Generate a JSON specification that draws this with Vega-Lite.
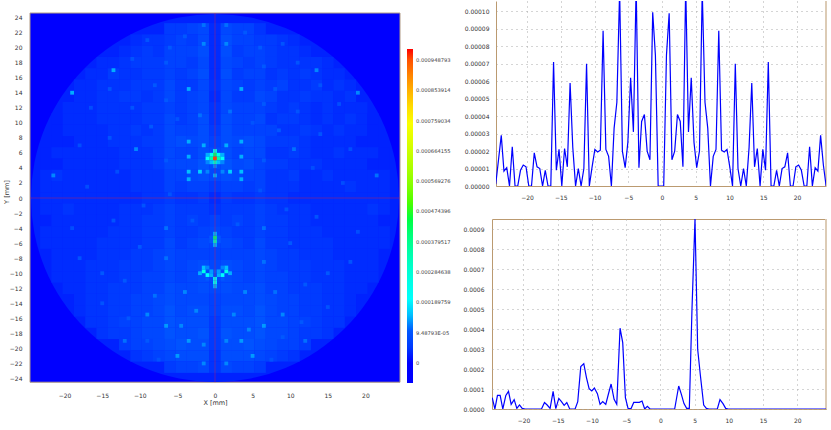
{"$schema":"https://vega.github.io/schema/vega-lite/v6.json","background":"white","padding":{"left":3,"top":0,"right":0,"bottom":0},"bounds":"flush","spacing":92,"config":{"view":{"stroke":null},"axis":{"labelFont":"DejaVu Sans","labelFontSize":6,"labelColor":"#333","titleFont":"DejaVu Sans","titleFontSize":6.5,"titleColor":"#333","titleFontWeight":"normal","ticks":false,"domain":false}},
"datasets":{"frame":[{"a":-24.6,"b":24.6,"c":-24.5,"d":24.6}],"disc":[{"x":0,"y":0,"v":2}],
"coarse":[
{"x":-6,"y":22.5,"v":5},{"x":-4.5,"y":22.5,"v":5},{"x":-3,"y":22.5,"v":6},{"x":-1.5,"y":22.5,"v":7},{"x":0,"y":22.5,"v":3},{"x":1.5,"y":22.5,"v":7},{"x":3,"y":22.5,"v":6},{"x":4.5,"y":22.5,"v":6},{"x":6,"y":22.5,"v":4},
{"x":-10.5,"y":21,"v":3},{"x":-9,"y":21,"v":4},{"x":-7.5,"y":21,"v":4},{"x":-6,"y":21,"v":5},{"x":-4.5,"y":21,"v":6},{"x":-3,"y":21,"v":5},{"x":-1.5,"y":21,"v":7},{"x":0,"y":21,"v":3},{"x":1.5,"y":21,"v":8},{"x":3,"y":21,"v":6},{"x":4.5,"y":21,"v":6},{"x":6,"y":21,"v":5},{"x":7.5,"y":21,"v":5},{"x":9,"y":21,"v":4},{"x":10.5,"y":21,"v":3},
{"x":-12,"y":19.5,"v":3},{"x":-10.5,"y":19.5,"v":4},{"x":-9,"y":19.5,"v":5},{"x":-7.5,"y":19.5,"v":4},{"x":-6,"y":19.5,"v":6},{"x":-4.5,"y":19.5,"v":6},{"x":-3,"y":19.5,"v":6},{"x":-1.5,"y":19.5,"v":8},{"x":0,"y":19.5,"v":3},{"x":1.5,"y":19.5,"v":8},{"x":3,"y":19.5,"v":5},{"x":4.5,"y":19.5,"v":6},{"x":6,"y":19.5,"v":6},{"x":7.5,"y":19.5,"v":5},{"x":9,"y":19.5,"v":4},{"x":10.5,"y":19.5,"v":4},{"x":12,"y":19.5,"v":3},
{"x":-15,"y":18,"v":3},{"x":-13.5,"y":18,"v":3},{"x":-12,"y":18,"v":4},{"x":-10.5,"y":18,"v":5},{"x":-9,"y":18,"v":5},{"x":-7.5,"y":18,"v":5},{"x":-6,"y":18,"v":6},{"x":-4.5,"y":18,"v":6},{"x":-3,"y":18,"v":5},{"x":-1.5,"y":18,"v":7},{"x":0,"y":18,"v":3},{"x":1.5,"y":18,"v":7},{"x":3,"y":18,"v":6},{"x":4.5,"y":18,"v":5},{"x":6,"y":18,"v":6},{"x":7.5,"y":18,"v":5},{"x":9,"y":18,"v":4},{"x":10.5,"y":18,"v":4},{"x":12,"y":18,"v":4},{"x":13.5,"y":18,"v":4},{"x":15,"y":18,"v":3},
{"x":-16.5,"y":16.5,"v":3},{"x":-15,"y":16.5,"v":3},{"x":-13.5,"y":16.5,"v":5},{"x":-12,"y":16.5,"v":4},{"x":-10.5,"y":16.5,"v":4},{"x":-9,"y":16.5,"v":5},{"x":-7.5,"y":16.5,"v":5},{"x":-6,"y":16.5,"v":6},{"x":-4.5,"y":16.5,"v":5},{"x":-3,"y":16.5,"v":6},{"x":-1.5,"y":16.5,"v":8},{"x":0,"y":16.5,"v":3},{"x":1.5,"y":16.5,"v":8},{"x":3,"y":16.5,"v":5},{"x":4.5,"y":16.5,"v":6},{"x":6,"y":16.5,"v":6},{"x":7.5,"y":16.5,"v":4},{"x":9,"y":16.5,"v":5},{"x":10.5,"y":16.5,"v":4},{"x":12,"y":16.5,"v":5},{"x":13.5,"y":16.5,"v":4},{"x":15,"y":16.5,"v":3},{"x":16.5,"y":16.5,"v":3},
{"x":-18,"y":15,"v":3},{"x":-16.5,"y":15,"v":3},{"x":-15,"y":15,"v":4},{"x":-13.5,"y":15,"v":4},{"x":-12,"y":15,"v":4},{"x":-10.5,"y":15,"v":5},{"x":-9,"y":15,"v":5},{"x":-7.5,"y":15,"v":5},{"x":-6,"y":15,"v":7},{"x":-4.5,"y":15,"v":5},{"x":-3,"y":15,"v":5},{"x":-1.5,"y":15,"v":7},{"x":0,"y":15,"v":4},{"x":1.5,"y":15,"v":7},{"x":3,"y":15,"v":6},{"x":4.5,"y":15,"v":5},{"x":6,"y":15,"v":6},{"x":7.5,"y":15,"v":5},{"x":9,"y":15,"v":6},{"x":10.5,"y":15,"v":4},{"x":12,"y":15,"v":4},{"x":13.5,"y":15,"v":5},{"x":15,"y":15,"v":3},{"x":16.5,"y":15,"v":4},{"x":18,"y":15,"v":3},
{"x":-18,"y":13.5,"v":3},{"x":-16.5,"y":13.5,"v":3},{"x":-15,"y":13.5,"v":4},{"x":-13.5,"y":13.5,"v":4},{"x":-12,"y":13.5,"v":5},{"x":-10.5,"y":13.5,"v":5},{"x":-9,"y":13.5,"v":4},{"x":-7.5,"y":13.5,"v":5},{"x":-6,"y":13.5,"v":7},{"x":-4.5,"y":13.5,"v":5},{"x":-3,"y":13.5,"v":6},{"x":-1.5,"y":13.5,"v":7},{"x":0,"y":13.5,"v":3},{"x":1.5,"y":13.5,"v":7},{"x":3,"y":13.5,"v":5},{"x":4.5,"y":13.5,"v":5},{"x":6,"y":13.5,"v":7},{"x":7.5,"y":13.5,"v":6},{"x":9,"y":13.5,"v":4},{"x":10.5,"y":13.5,"v":4},{"x":12,"y":13.5,"v":5},{"x":13.5,"y":13.5,"v":4},{"x":15,"y":13.5,"v":4},{"x":16.5,"y":13.5,"v":3},{"x":18,"y":13.5,"v":4},
{"x":-19.5,"y":12,"v":3},{"x":-18,"y":12,"v":3},{"x":-16.5,"y":12,"v":3},{"x":-15,"y":12,"v":4},{"x":-13.5,"y":12,"v":4},{"x":-12,"y":12,"v":4},{"x":-10.5,"y":12,"v":4},{"x":-9,"y":12,"v":5},{"x":-7.5,"y":12,"v":5},{"x":-6,"y":12,"v":6},{"x":-4.5,"y":12,"v":5},{"x":-3,"y":12,"v":6},{"x":-1.5,"y":12,"v":7},{"x":0,"y":12,"v":4},{"x":1.5,"y":12,"v":7},{"x":3,"y":12,"v":6},{"x":4.5,"y":12,"v":6},{"x":6,"y":12,"v":6},{"x":7.5,"y":12,"v":5},{"x":9,"y":12,"v":4},{"x":10.5,"y":12,"v":5},{"x":12,"y":12,"v":4},{"x":13.5,"y":12,"v":3},{"x":15,"y":12,"v":4},{"x":16.5,"y":12,"v":3},{"x":18,"y":12,"v":3},{"x":19.5,"y":12,"v":3},
{"x":-21,"y":10.5,"v":2},{"x":-19.5,"y":10.5,"v":3},{"x":-18,"y":10.5,"v":3},{"x":-16.5,"y":10.5,"v":3},{"x":-15,"y":10.5,"v":4},{"x":-13.5,"y":10.5,"v":4},{"x":-12,"y":10.5,"v":4},{"x":-10.5,"y":10.5,"v":4},{"x":-9,"y":10.5,"v":5},{"x":-7.5,"y":10.5,"v":5},{"x":-6,"y":10.5,"v":7},{"x":-4.5,"y":10.5,"v":5},{"x":-3,"y":10.5,"v":6},{"x":-1.5,"y":10.5,"v":8},{"x":0,"y":10.5,"v":4},{"x":1.5,"y":10.5,"v":8},{"x":3,"y":10.5,"v":6},{"x":4.5,"y":10.5,"v":6},{"x":6,"y":10.5,"v":7},{"x":7.5,"y":10.5,"v":4},{"x":9,"y":10.5,"v":5},{"x":10.5,"y":10.5,"v":5},{"x":12,"y":10.5,"v":4},{"x":13.5,"y":10.5,"v":3},{"x":15,"y":10.5,"v":4},{"x":16.5,"y":10.5,"v":3},{"x":18,"y":10.5,"v":4},{"x":19.5,"y":10.5,"v":3},{"x":21,"y":10.5,"v":2},
{"x":-21,"y":9,"v":2},{"x":-19.5,"y":9,"v":3},{"x":-18,"y":9,"v":3},{"x":-16.5,"y":9,"v":3},{"x":-15,"y":9,"v":3},{"x":-13.5,"y":9,"v":4},{"x":-12,"y":9,"v":4},{"x":-10.5,"y":9,"v":5},{"x":-9,"y":9,"v":4},{"x":-7.5,"y":9,"v":5},{"x":-6,"y":9,"v":7},{"x":-4.5,"y":9,"v":6},{"x":-3,"y":9,"v":6},{"x":-1.5,"y":9,"v":8},{"x":0,"y":9,"v":5},{"x":1.5,"y":9,"v":8},{"x":3,"y":9,"v":6},{"x":4.5,"y":9,"v":6},{"x":6,"y":9,"v":6},{"x":7.5,"y":9,"v":6},{"x":9,"y":9,"v":4},{"x":10.5,"y":9,"v":4},{"x":12,"y":9,"v":5},{"x":13.5,"y":9,"v":4},{"x":15,"y":9,"v":3},{"x":16.5,"y":9,"v":4},{"x":18,"y":9,"v":3},{"x":19.5,"y":9,"v":3},{"x":21,"y":9,"v":2},
{"x":-21,"y":7.5,"v":2},{"x":-19.5,"y":7.5,"v":2},{"x":-18,"y":7.5,"v":3},{"x":-16.5,"y":7.5,"v":3},{"x":-15,"y":7.5,"v":3},{"x":-13.5,"y":7.5,"v":4},{"x":-12,"y":7.5,"v":4},{"x":-10.5,"y":7.5,"v":4},{"x":-9,"y":7.5,"v":5},{"x":-7.5,"y":7.5,"v":5},{"x":-6,"y":7.5,"v":7},{"x":-4.5,"y":7.5,"v":8},{"x":-3,"y":7.5,"v":7},{"x":-1.5,"y":7.5,"v":8},{"x":0,"y":7.5,"v":6},{"x":1.5,"y":7.5,"v":8},{"x":3,"y":7.5,"v":7},{"x":4.5,"y":7.5,"v":8},{"x":6,"y":7.5,"v":7},{"x":7.5,"y":7.5,"v":5},{"x":9,"y":7.5,"v":5},{"x":10.5,"y":7.5,"v":5},{"x":12,"y":7.5,"v":4},{"x":13.5,"y":7.5,"v":3},{"x":15,"y":7.5,"v":3},{"x":16.5,"y":7.5,"v":3},{"x":18,"y":7.5,"v":3},{"x":19.5,"y":7.5,"v":2},{"x":21,"y":7.5,"v":2},
{"x":-22.5,"y":6,"v":2},{"x":-21,"y":6,"v":3},{"x":-19.5,"y":6,"v":3},{"x":-18,"y":6,"v":3},{"x":-16.5,"y":6,"v":3},{"x":-15,"y":6,"v":3},{"x":-13.5,"y":6,"v":3},{"x":-12,"y":6,"v":4},{"x":-10.5,"y":6,"v":4},{"x":-9,"y":6,"v":4},{"x":-7.5,"y":6,"v":5},{"x":-6,"y":6,"v":7},{"x":-4.5,"y":6,"v":6},{"x":-3,"y":6,"v":6},{"x":-1.5,"y":6,"v":8},{"x":0,"y":6,"v":8},{"x":1.5,"y":6,"v":8},{"x":3,"y":6,"v":6},{"x":4.5,"y":6,"v":7},{"x":6,"y":6,"v":7},{"x":7.5,"y":6,"v":4},{"x":9,"y":6,"v":4},{"x":10.5,"y":6,"v":5},{"x":12,"y":6,"v":4},{"x":13.5,"y":6,"v":3},{"x":15,"y":6,"v":3},{"x":16.5,"y":6,"v":4},{"x":18,"y":6,"v":3},{"x":19.5,"y":6,"v":3},{"x":21,"y":6,"v":3},{"x":22.5,"y":6,"v":2},
{"x":-22.5,"y":4.5,"v":2},{"x":-21,"y":4.5,"v":2},{"x":-19.5,"y":4.5,"v":3},{"x":-18,"y":4.5,"v":3},{"x":-16.5,"y":4.5,"v":3},{"x":-15,"y":4.5,"v":3},{"x":-13.5,"y":4.5,"v":3},{"x":-12,"y":4.5,"v":4},{"x":-10.5,"y":4.5,"v":4},{"x":-9,"y":4.5,"v":4},{"x":-7.5,"y":4.5,"v":5},{"x":-6,"y":4.5,"v":7},{"x":-4.5,"y":4.5,"v":7},{"x":-3,"y":4.5,"v":7},{"x":-1.5,"y":4.5,"v":9},{"x":0,"y":4.5,"v":8},{"x":1.5,"y":4.5,"v":9},{"x":3,"y":4.5,"v":7},{"x":4.5,"y":4.5,"v":8},{"x":6,"y":4.5,"v":6},{"x":7.5,"y":4.5,"v":5},{"x":9,"y":4.5,"v":5},{"x":10.5,"y":4.5,"v":4},{"x":12,"y":4.5,"v":4},{"x":13.5,"y":4.5,"v":4},{"x":15,"y":4.5,"v":3},{"x":16.5,"y":4.5,"v":3},{"x":18,"y":4.5,"v":3},{"x":19.5,"y":4.5,"v":3},{"x":21,"y":4.5,"v":2},{"x":22.5,"y":4.5,"v":2},
{"x":-22.5,"y":3,"v":3},{"x":-21,"y":3,"v":4},{"x":-19.5,"y":3,"v":3},{"x":-18,"y":3,"v":3},{"x":-16.5,"y":3,"v":3},{"x":-15,"y":3,"v":3},{"x":-13.5,"y":3,"v":3},{"x":-12,"y":3,"v":3},{"x":-10.5,"y":3,"v":4},{"x":-9,"y":3,"v":4},{"x":-7.5,"y":3,"v":4},{"x":-6,"y":3,"v":6},{"x":-4.5,"y":3,"v":6},{"x":-3,"y":3,"v":7},{"x":-1.5,"y":3,"v":8},{"x":0,"y":3,"v":7},{"x":1.5,"y":3,"v":8},{"x":3,"y":3,"v":7},{"x":4.5,"y":3,"v":6},{"x":6,"y":3,"v":6},{"x":7.5,"y":3,"v":4},{"x":9,"y":3,"v":4},{"x":10.5,"y":3,"v":5},{"x":12,"y":3,"v":3},{"x":13.5,"y":3,"v":3},{"x":15,"y":3,"v":4},{"x":16.5,"y":3,"v":3},{"x":18,"y":3,"v":3},{"x":19.5,"y":3,"v":3},{"x":21,"y":3,"v":3},{"x":22.5,"y":3,"v":3},
{"x":-22.5,"y":1.5,"v":3},{"x":-21,"y":1.5,"v":3},{"x":-19.5,"y":1.5,"v":3},{"x":-18,"y":1.5,"v":3},{"x":-16.5,"y":1.5,"v":3},{"x":-15,"y":1.5,"v":3},{"x":-13.5,"y":1.5,"v":3},{"x":-12,"y":1.5,"v":3},{"x":-10.5,"y":1.5,"v":4},{"x":-9,"y":1.5,"v":4},{"x":-7.5,"y":1.5,"v":4},{"x":-6,"y":1.5,"v":6},{"x":-4.5,"y":1.5,"v":5},{"x":-3,"y":1.5,"v":6},{"x":-1.5,"y":1.5,"v":6},{"x":0,"y":1.5,"v":5},{"x":1.5,"y":1.5,"v":6},{"x":3,"y":1.5,"v":6},{"x":4.5,"y":1.5,"v":5},{"x":6,"y":1.5,"v":6},{"x":7.5,"y":1.5,"v":4},{"x":9,"y":1.5,"v":4},{"x":10.5,"y":1.5,"v":4},{"x":12,"y":1.5,"v":3},{"x":13.5,"y":1.5,"v":3},{"x":15,"y":1.5,"v":3},{"x":16.5,"y":1.5,"v":3},{"x":18,"y":1.5,"v":4},{"x":19.5,"y":1.5,"v":3},{"x":21,"y":1.5,"v":3},{"x":22.5,"y":1.5,"v":3},
{"x":-22.5,"y":0,"v":3},{"x":-21,"y":0,"v":3},{"x":-19.5,"y":0,"v":3},{"x":-18,"y":0,"v":3},{"x":-16.5,"y":0,"v":3},{"x":-15,"y":0,"v":3},{"x":-13.5,"y":0,"v":3},{"x":-12,"y":0,"v":3},{"x":-10.5,"y":0,"v":3},{"x":-9,"y":0,"v":4},{"x":-7.5,"y":0,"v":4},{"x":-6,"y":0,"v":5},{"x":-4.5,"y":0,"v":4},{"x":-3,"y":0,"v":4},{"x":-1.5,"y":0,"v":5},{"x":0,"y":0,"v":3},{"x":1.5,"y":0,"v":5},{"x":3,"y":0,"v":4},{"x":4.5,"y":0,"v":4},{"x":6,"y":0,"v":5},{"x":7.5,"y":0,"v":4},{"x":9,"y":0,"v":4},{"x":10.5,"y":0,"v":3},{"x":12,"y":0,"v":3},{"x":13.5,"y":0,"v":3},{"x":15,"y":0,"v":3},{"x":16.5,"y":0,"v":3},{"x":18,"y":0,"v":3},{"x":19.5,"y":0,"v":3},{"x":21,"y":0,"v":3},{"x":22.5,"y":0,"v":3},
{"x":-22.5,"y":-1.5,"v":3},{"x":-21,"y":-1.5,"v":3},{"x":-19.5,"y":-1.5,"v":4},{"x":-18,"y":-1.5,"v":3},{"x":-16.5,"y":-1.5,"v":3},{"x":-15,"y":-1.5,"v":3},{"x":-13.5,"y":-1.5,"v":3},{"x":-12,"y":-1.5,"v":4},{"x":-10.5,"y":-1.5,"v":4},{"x":-9,"y":-1.5,"v":4},{"x":-7.5,"y":-1.5,"v":5},{"x":-6,"y":-1.5,"v":6},{"x":-4.5,"y":-1.5,"v":5},{"x":-3,"y":-1.5,"v":5},{"x":-1.5,"y":-1.5,"v":5},{"x":0,"y":-1.5,"v":4},{"x":1.5,"y":-1.5,"v":5},{"x":3,"y":-1.5,"v":5},{"x":4.5,"y":-1.5,"v":5},{"x":6,"y":-1.5,"v":6},{"x":7.5,"y":-1.5,"v":5},{"x":9,"y":-1.5,"v":4},{"x":10.5,"y":-1.5,"v":4},{"x":12,"y":-1.5,"v":4},{"x":13.5,"y":-1.5,"v":3},{"x":15,"y":-1.5,"v":3},{"x":16.5,"y":-1.5,"v":3},{"x":18,"y":-1.5,"v":3},{"x":19.5,"y":-1.5,"v":3},{"x":21,"y":-1.5,"v":4},{"x":22.5,"y":-1.5,"v":3},
{"x":-22.5,"y":-3,"v":2},{"x":-21,"y":-3,"v":3},{"x":-19.5,"y":-3,"v":3},{"x":-18,"y":-3,"v":3},{"x":-16.5,"y":-3,"v":3},{"x":-15,"y":-3,"v":3},{"x":-13.5,"y":-3,"v":3},{"x":-12,"y":-3,"v":4},{"x":-10.5,"y":-3,"v":4},{"x":-9,"y":-3,"v":5},{"x":-7.5,"y":-3,"v":5},{"x":-6,"y":-3,"v":6},{"x":-4.5,"y":-3,"v":5},{"x":-3,"y":-3,"v":6},{"x":-1.5,"y":-3,"v":5},{"x":0,"y":-3,"v":6},{"x":1.5,"y":-3,"v":5},{"x":3,"y":-3,"v":6},{"x":4.5,"y":-3,"v":5},{"x":6,"y":-3,"v":6},{"x":7.5,"y":-3,"v":5},{"x":9,"y":-3,"v":5},{"x":10.5,"y":-3,"v":4},{"x":12,"y":-3,"v":4},{"x":13.5,"y":-3,"v":3},{"x":15,"y":-3,"v":3},{"x":16.5,"y":-3,"v":3},{"x":18,"y":-3,"v":3},{"x":19.5,"y":-3,"v":3},{"x":21,"y":-3,"v":3},{"x":22.5,"y":-3,"v":2},
{"x":-22.5,"y":-4.5,"v":3},{"x":-21,"y":-4.5,"v":3},{"x":-19.5,"y":-4.5,"v":3},{"x":-18,"y":-4.5,"v":3},{"x":-16.5,"y":-4.5,"v":3},{"x":-15,"y":-4.5,"v":3},{"x":-13.5,"y":-4.5,"v":4},{"x":-12,"y":-4.5,"v":4},{"x":-10.5,"y":-4.5,"v":4},{"x":-9,"y":-4.5,"v":5},{"x":-7.5,"y":-4.5,"v":5},{"x":-6,"y":-4.5,"v":6},{"x":-4.5,"y":-4.5,"v":5},{"x":-3,"y":-4.5,"v":5},{"x":-1.5,"y":-4.5,"v":6},{"x":0,"y":-4.5,"v":7},{"x":1.5,"y":-4.5,"v":6},{"x":3,"y":-4.5,"v":5},{"x":4.5,"y":-4.5,"v":5},{"x":6,"y":-4.5,"v":6},{"x":7.5,"y":-4.5,"v":5},{"x":9,"y":-4.5,"v":5},{"x":10.5,"y":-4.5,"v":4},{"x":12,"y":-4.5,"v":4},{"x":13.5,"y":-4.5,"v":4},{"x":15,"y":-4.5,"v":3},{"x":16.5,"y":-4.5,"v":3},{"x":18,"y":-4.5,"v":3},{"x":19.5,"y":-4.5,"v":3},{"x":21,"y":-4.5,"v":3},{"x":22.5,"y":-4.5,"v":3},
{"x":-22.5,"y":-6,"v":3},{"x":-21,"y":-6,"v":3},{"x":-19.5,"y":-6,"v":3},{"x":-18,"y":-6,"v":3},{"x":-16.5,"y":-6,"v":3},{"x":-15,"y":-6,"v":4},{"x":-13.5,"y":-6,"v":4},{"x":-12,"y":-6,"v":4},{"x":-10.5,"y":-6,"v":4},{"x":-9,"y":-6,"v":5},{"x":-7.5,"y":-6,"v":5},{"x":-6,"y":-6,"v":7},{"x":-4.5,"y":-6,"v":5},{"x":-3,"y":-6,"v":6},{"x":-1.5,"y":-6,"v":7},{"x":0,"y":-6,"v":7},{"x":1.5,"y":-6,"v":7},{"x":3,"y":-6,"v":6},{"x":4.5,"y":-6,"v":5},{"x":6,"y":-6,"v":7},{"x":7.5,"y":-6,"v":5},{"x":9,"y":-6,"v":5},{"x":10.5,"y":-6,"v":4},{"x":12,"y":-6,"v":4},{"x":13.5,"y":-6,"v":4},{"x":15,"y":-6,"v":4},{"x":16.5,"y":-6,"v":3},{"x":18,"y":-6,"v":3},{"x":19.5,"y":-6,"v":3},{"x":21,"y":-6,"v":3},{"x":22.5,"y":-6,"v":3},
{"x":-21,"y":-7.5,"v":3},{"x":-19.5,"y":-7.5,"v":3},{"x":-18,"y":-7.5,"v":3},{"x":-16.5,"y":-7.5,"v":3},{"x":-15,"y":-7.5,"v":4},{"x":-13.5,"y":-7.5,"v":4},{"x":-12,"y":-7.5,"v":4},{"x":-10.5,"y":-7.5,"v":5},{"x":-9,"y":-7.5,"v":5},{"x":-7.5,"y":-7.5,"v":6},{"x":-6,"y":-7.5,"v":7},{"x":-4.5,"y":-7.5,"v":6},{"x":-3,"y":-7.5,"v":6},{"x":-1.5,"y":-7.5,"v":6},{"x":0,"y":-7.5,"v":6},{"x":1.5,"y":-7.5,"v":6},{"x":3,"y":-7.5,"v":6},{"x":4.5,"y":-7.5,"v":6},{"x":6,"y":-7.5,"v":7},{"x":7.5,"y":-7.5,"v":6},{"x":9,"y":-7.5,"v":5},{"x":10.5,"y":-7.5,"v":5},{"x":12,"y":-7.5,"v":4},{"x":13.5,"y":-7.5,"v":4},{"x":15,"y":-7.5,"v":4},{"x":16.5,"y":-7.5,"v":3},{"x":18,"y":-7.5,"v":3},{"x":19.5,"y":-7.5,"v":3},{"x":21,"y":-7.5,"v":3},
{"x":-21,"y":-9,"v":3},{"x":-19.5,"y":-9,"v":3},{"x":-18,"y":-9,"v":3},{"x":-16.5,"y":-9,"v":4},{"x":-15,"y":-9,"v":4},{"x":-13.5,"y":-9,"v":4},{"x":-12,"y":-9,"v":5},{"x":-10.5,"y":-9,"v":5},{"x":-9,"y":-9,"v":5},{"x":-7.5,"y":-9,"v":6},{"x":-6,"y":-9,"v":7},{"x":-4.5,"y":-9,"v":6},{"x":-3,"y":-9,"v":7},{"x":-1.5,"y":-9,"v":8},{"x":0,"y":-9,"v":7},{"x":1.5,"y":-9,"v":8},{"x":3,"y":-9,"v":7},{"x":4.5,"y":-9,"v":6},{"x":6,"y":-9,"v":7},{"x":7.5,"y":-9,"v":6},{"x":9,"y":-9,"v":5},{"x":10.5,"y":-9,"v":5},{"x":12,"y":-9,"v":5},{"x":13.5,"y":-9,"v":4},{"x":15,"y":-9,"v":4},{"x":16.5,"y":-9,"v":4},{"x":18,"y":-9,"v":3},{"x":19.5,"y":-9,"v":3},{"x":21,"y":-9,"v":3},
{"x":-21,"y":-10.5,"v":3},{"x":-19.5,"y":-10.5,"v":3},{"x":-18,"y":-10.5,"v":3},{"x":-16.5,"y":-10.5,"v":4},{"x":-15,"y":-10.5,"v":4},{"x":-13.5,"y":-10.5,"v":4},{"x":-12,"y":-10.5,"v":5},{"x":-10.5,"y":-10.5,"v":5},{"x":-9,"y":-10.5,"v":6},{"x":-7.5,"y":-10.5,"v":6},{"x":-6,"y":-10.5,"v":7},{"x":-4.5,"y":-10.5,"v":6},{"x":-3,"y":-10.5,"v":7},{"x":-1.5,"y":-10.5,"v":8},{"x":0,"y":-10.5,"v":7},{"x":1.5,"y":-10.5,"v":8},{"x":3,"y":-10.5,"v":7},{"x":4.5,"y":-10.5,"v":6},{"x":6,"y":-10.5,"v":7},{"x":7.5,"y":-10.5,"v":6},{"x":9,"y":-10.5,"v":6},{"x":10.5,"y":-10.5,"v":5},{"x":12,"y":-10.5,"v":5},{"x":13.5,"y":-10.5,"v":4},{"x":15,"y":-10.5,"v":4},{"x":16.5,"y":-10.5,"v":4},{"x":18,"y":-10.5,"v":3},{"x":19.5,"y":-10.5,"v":3},{"x":21,"y":-10.5,"v":3},
{"x":-19.5,"y":-12,"v":3},{"x":-18,"y":-12,"v":3},{"x":-16.5,"y":-12,"v":4},{"x":-15,"y":-12,"v":4},{"x":-13.5,"y":-12,"v":5},{"x":-12,"y":-12,"v":5},{"x":-10.5,"y":-12,"v":5},{"x":-9,"y":-12,"v":6},{"x":-7.5,"y":-12,"v":6},{"x":-6,"y":-12,"v":8},{"x":-4.5,"y":-12,"v":7},{"x":-3,"y":-12,"v":7},{"x":-1.5,"y":-12,"v":8},{"x":0,"y":-12,"v":7},{"x":1.5,"y":-12,"v":8},{"x":3,"y":-12,"v":7},{"x":4.5,"y":-12,"v":7},{"x":6,"y":-12,"v":8},{"x":7.5,"y":-12,"v":6},{"x":9,"y":-12,"v":6},{"x":10.5,"y":-12,"v":5},{"x":12,"y":-12,"v":5},{"x":13.5,"y":-12,"v":5},{"x":15,"y":-12,"v":4},{"x":16.5,"y":-12,"v":4},{"x":18,"y":-12,"v":3},{"x":19.5,"y":-12,"v":3},
{"x":-18,"y":-13.5,"v":3},{"x":-16.5,"y":-13.5,"v":4},{"x":-15,"y":-13.5,"v":4},{"x":-13.5,"y":-13.5,"v":5},{"x":-12,"y":-13.5,"v":5},{"x":-10.5,"y":-13.5,"v":6},{"x":-9,"y":-13.5,"v":6},{"x":-7.5,"y":-13.5,"v":7},{"x":-6,"y":-13.5,"v":8},{"x":-4.5,"y":-13.5,"v":7},{"x":-3,"y":-13.5,"v":7},{"x":-1.5,"y":-13.5,"v":7},{"x":0,"y":-13.5,"v":6},{"x":1.5,"y":-13.5,"v":7},{"x":3,"y":-13.5,"v":7},{"x":4.5,"y":-13.5,"v":7},{"x":6,"y":-13.5,"v":8},{"x":7.5,"y":-13.5,"v":7},{"x":9,"y":-13.5,"v":6},{"x":10.5,"y":-13.5,"v":6},{"x":12,"y":-13.5,"v":5},{"x":13.5,"y":-13.5,"v":5},{"x":15,"y":-13.5,"v":4},{"x":16.5,"y":-13.5,"v":4},{"x":18,"y":-13.5,"v":3},
{"x":-18,"y":-15,"v":3},{"x":-16.5,"y":-15,"v":4},{"x":-15,"y":-15,"v":4},{"x":-13.5,"y":-15,"v":5},{"x":-12,"y":-15,"v":5},{"x":-10.5,"y":-15,"v":6},{"x":-9,"y":-15,"v":6},{"x":-7.5,"y":-15,"v":7},{"x":-6,"y":-15,"v":9},{"x":-4.5,"y":-15,"v":7},{"x":-3,"y":-15,"v":8},{"x":-1.5,"y":-15,"v":8},{"x":0,"y":-15,"v":6},{"x":1.5,"y":-15,"v":8},{"x":3,"y":-15,"v":8},{"x":4.5,"y":-15,"v":7},{"x":6,"y":-15,"v":9},{"x":7.5,"y":-15,"v":7},{"x":9,"y":-15,"v":6},{"x":10.5,"y":-15,"v":6},{"x":12,"y":-15,"v":5},{"x":13.5,"y":-15,"v":5},{"x":15,"y":-15,"v":4},{"x":16.5,"y":-15,"v":4},{"x":18,"y":-15,"v":3},
{"x":-16.5,"y":-16.5,"v":4},{"x":-15,"y":-16.5,"v":4},{"x":-13.5,"y":-16.5,"v":5},{"x":-12,"y":-16.5,"v":6},{"x":-10.5,"y":-16.5,"v":6},{"x":-9,"y":-16.5,"v":7},{"x":-7.5,"y":-16.5,"v":7},{"x":-6,"y":-16.5,"v":9},{"x":-4.5,"y":-16.5,"v":8},{"x":-3,"y":-16.5,"v":8},{"x":-1.5,"y":-16.5,"v":8},{"x":0,"y":-16.5,"v":5},{"x":1.5,"y":-16.5,"v":8},{"x":3,"y":-16.5,"v":8},{"x":4.5,"y":-16.5,"v":8},{"x":6,"y":-16.5,"v":9},{"x":7.5,"y":-16.5,"v":7},{"x":9,"y":-16.5,"v":7},{"x":10.5,"y":-16.5,"v":6},{"x":12,"y":-16.5,"v":6},{"x":13.5,"y":-16.5,"v":5},{"x":15,"y":-16.5,"v":4},{"x":16.5,"y":-16.5,"v":4},
{"x":-15,"y":-18,"v":4},{"x":-13.5,"y":-18,"v":5},{"x":-12,"y":-18,"v":5},{"x":-10.5,"y":-18,"v":6},{"x":-9,"y":-18,"v":7},{"x":-7.5,"y":-18,"v":7},{"x":-6,"y":-18,"v":9},{"x":-4.5,"y":-18,"v":8},{"x":-3,"y":-18,"v":8},{"x":-1.5,"y":-18,"v":9},{"x":0,"y":-18,"v":5},{"x":1.5,"y":-18,"v":9},{"x":3,"y":-18,"v":8},{"x":4.5,"y":-18,"v":8},{"x":6,"y":-18,"v":9},{"x":7.5,"y":-18,"v":7},{"x":9,"y":-18,"v":7},{"x":10.5,"y":-18,"v":6},{"x":12,"y":-18,"v":5},{"x":13.5,"y":-18,"v":5},{"x":15,"y":-18,"v":4},
{"x":-12,"y":-19.5,"v":5},{"x":-10.5,"y":-19.5,"v":6},{"x":-9,"y":-19.5,"v":6},{"x":-7.5,"y":-19.5,"v":7},{"x":-6,"y":-19.5,"v":8},{"x":-4.5,"y":-19.5,"v":9},{"x":-3,"y":-19.5,"v":8},{"x":-1.5,"y":-19.5,"v":8},{"x":0,"y":-19.5,"v":5},{"x":1.5,"y":-19.5,"v":8},{"x":3,"y":-19.5,"v":8},{"x":4.5,"y":-19.5,"v":9},{"x":6,"y":-19.5,"v":8},{"x":7.5,"y":-19.5,"v":7},{"x":9,"y":-19.5,"v":6},{"x":10.5,"y":-19.5,"v":6},{"x":12,"y":-19.5,"v":5},
{"x":-10.5,"y":-21,"v":4},{"x":-9,"y":-21,"v":5},{"x":-7.5,"y":-21,"v":6},{"x":-6,"y":-21,"v":7},{"x":-4.5,"y":-21,"v":8},{"x":-3,"y":-21,"v":8},{"x":-1.5,"y":-21,"v":8},{"x":0,"y":-21,"v":4},{"x":1.5,"y":-21,"v":8},{"x":3,"y":-21,"v":8},{"x":4.5,"y":-21,"v":8},{"x":6,"y":-21,"v":7},{"x":7.5,"y":-21,"v":6},{"x":9,"y":-21,"v":5},{"x":10.5,"y":-21,"v":4},
{"x":-6,"y":-22.5,"v":5},{"x":-4.5,"y":-22.5,"v":6},{"x":-3,"y":-22.5,"v":6},{"x":-1.5,"y":-22.5,"v":7},{"x":0,"y":-22.5,"v":4},{"x":1.5,"y":-22.5,"v":7},{"x":3,"y":-22.5,"v":6},{"x":4.5,"y":-22.5,"v":6},{"x":6,"y":-22.5,"v":5}
],
"fine":[
{"x":0,"y":6.25,"v":25},{"x":-0.5,"y":5.75,"v":22},{"x":0,"y":5.75,"v":40},{"x":0.5,"y":5.75,"v":22},{"x":-1,"y":5.75,"v":14},{"x":1,"y":5.75,"v":14},{"x":-1,"y":5.25,"v":22},{"x":-0.5,"y":5.25,"v":35},{"x":0,"y":5.25,"v":94.9},{"x":0.5,"y":5.25,"v":35},{"x":1,"y":5.25,"v":22},{"x":-1,"y":4.75,"v":12},{"x":-0.5,"y":4.75,"v":15},{"x":0,"y":4.75,"v":30},{"x":0.5,"y":4.75,"v":15},{"x":1,"y":4.75,"v":12},{"x":0,"y":4.25,"v":12},{"x":0,"y":3,"v":14},
{"x":-3.5,"y":3.5,"v":15},{"x":3.5,"y":3.5,"v":15},{"x":-2,"y":3.5,"v":16},{"x":2,"y":3.5,"v":16},{"x":-1,"y":3.5,"v":12},{"x":1,"y":3.5,"v":12},{"x":-3.5,"y":7.5,"v":14},{"x":3.5,"y":7.5,"v":14},{"x":-1.5,"y":7,"v":14},{"x":1.5,"y":7,"v":14},{"x":-3.5,"y":5.5,"v":14},{"x":3.5,"y":5.5,"v":14},{"x":-3.5,"y":2.5,"v":14},{"x":3.5,"y":2.5,"v":14},
{"x":0,"y":-5.25,"v":40},{"x":0,"y":-5.75,"v":33},{"x":0,"y":-4.75,"v":14},{"x":0,"y":-6.25,"v":14},{"x":-0.5,"y":-5.25,"v":10},{"x":0.5,"y":-5.25,"v":10},{"x":-0.5,"y":-5.75,"v":10},{"x":0.5,"y":-5.75,"v":10},
{"x":-1.5,"y":-9.75,"v":25},{"x":1.5,"y":-9.75,"v":25},{"x":-1,"y":-10.25,"v":20},{"x":1,"y":-10.25,"v":20},{"x":-1.5,"y":-9.25,"v":15},{"x":1.5,"y":-9.25,"v":15},{"x":-0.5,"y":-10.25,"v":14},{"x":0.5,"y":-10.25,"v":14},{"x":0,"y":-9.75,"v":10},{"x":0,"y":-10.75,"v":22},{"x":0,"y":-11.25,"v":23},{"x":0,"y":-11.75,"v":14},{"x":-2,"y":-10,"v":14},{"x":2,"y":-10,"v":14},{"x":-1,"y":-9.25,"v":12},{"x":1,"y":-9.25,"v":12},{"x":-0.5,"y":-9.75,"v":13},{"x":0.5,"y":-9.75,"v":13},{"x":-1,"y":-10.75,"v":10},{"x":1,"y":-10.75,"v":10},
{"x":-3.5,"y":14.5,"v":14},{"x":3.5,"y":14.5,"v":14},{"x":-13.5,"y":17,"v":14},{"x":13.5,"y":17,"v":12},{"x":-19,"y":14,"v":14},{"x":19,"y":14,"v":12},{"x":-21.5,"y":3,"v":12},{"x":21.5,"y":3,"v":11},{"x":-10.5,"y":6.5,"v":12},{"x":10.5,"y":6.5,"v":11},{"x":-1.5,"y":20.5,"v":12},{"x":1.5,"y":20.5,"v":12},{"x":-1.5,"y":23,"v":11},{"x":1.5,"y":23,"v":11},{"x":-6.5,"y":-4,"v":11},{"x":6.5,"y":-4,"v":11},{"x":-6.5,"y":-17,"v":13},{"x":6.5,"y":-17,"v":13},{"x":-3.5,"y":-19,"v":13},{"x":3.5,"y":-19,"v":13},{"x":-5,"y":-21,"v":13},{"x":5,"y":-21,"v":13},{"x":-9,"y":-15.5,"v":12},{"x":9,"y":-15.5,"v":12},{"x":-1.5,"y":-22,"v":12},{"x":1.5,"y":-22,"v":12},{"x":-12,"y":-19,"v":11},{"x":12,"y":-19,"v":11},{"x":-15,"y":-10,"v":10},{"x":15,"y":-10,"v":10},
{"x":-6,"y":20,"v":10},{"x":6,"y":20,"v":10},{"x":-6.5,"y":18,"v":10},{"x":6.5,"y":17.5,"v":10},{"x":-9,"y":21,"v":9},{"x":9,"y":20.5,"v":9},{"x":-4,"y":21.5,"v":10},{"x":4,"y":22,"v":10},{"x":-11,"y":18.5,"v":9},{"x":11,"y":18,"v":9},{"x":-14,"y":14.5,"v":9},{"x":14,"y":15,"v":9},{"x":-16.5,"y":12,"v":8},{"x":16.5,"y":12.5,"v":8},{"x":-8,"y":15,"v":10},{"x":8,"y":14.5,"v":10},{"x":-6.5,"y":13,"v":10},{"x":6.5,"y":12.5,"v":10},{"x":-11,"y":12,"v":9},{"x":11,"y":11.5,"v":9},{"x":-2,"y":11,"v":11},{"x":2,"y":11.5,"v":11},{"x":-5,"y":10.5,"v":9},{"x":5,"y":10,"v":9},{"x":-8.5,"y":9.5,"v":10},{"x":8.5,"y":9,"v":10},{"x":-14,"y":8,"v":9},{"x":14,"y":8.5,"v":9},{"x":-18,"y":7,"v":8},{"x":18,"y":6.5,"v":8},{"x":-6.5,"y":5,"v":10},{"x":6.5,"y":5,"v":10},{"x":-13,"y":3.5,"v":8},{"x":13,"y":4,"v":8},{"x":-17,"y":1.5,"v":8},{"x":17,"y":2,"v":8},{"x":-6,"y":0.5,"v":9},{"x":6,"y":1,"v":9},{"x":-9.5,"y":-1,"v":9},{"x":9.5,"y":-1.5,"v":9},{"x":-13.5,"y":-3,"v":9},{"x":13.5,"y":-2.5,"v":9},{"x":-19,"y":-4,"v":8},{"x":19,"y":-4.5,"v":8},{"x":-3,"y":-3,"v":10},{"x":3,"y":-3.5,"v":10},{"x":-10,"y":-6.5,"v":10},{"x":10,"y":-6,"v":10},{"x":-6.5,"y":-8,"v":11},{"x":6.5,"y":-8.5,"v":11},{"x":-18,"y":-8,"v":9},{"x":18,"y":-8.5,"v":9},{"x":-12,"y":-11,"v":10},{"x":12,"y":-11.5,"v":10},{"x":-4,"y":-12.5,"v":12},{"x":4,"y":-12.5,"v":12},{"x":-8,"y":-13,"v":11},{"x":8,"y":-12.5,"v":11},{"x":-15,"y":-14,"v":9},{"x":15,"y":-14.5,"v":9},{"x":-2.5,"y":-15,"v":12},{"x":2.5,"y":-15.5,"v":12},{"x":-11.5,"y":-16,"v":10},{"x":11.5,"y":-16.5,"v":10},{"x":-4.5,"y":-17,"v":12},{"x":4.5,"y":-17.5,"v":12},{"x":-9,"y":-19,"v":10},{"x":9,"y":-18.5,"v":10},{"x":-1.5,"y":-19.5,"v":12},{"x":1.5,"y":-19,"v":12},{"x":-7.5,"y":-21.5,"v":9},{"x":7.5,"y":-21.5,"v":9}
],
"crossV":[{"x":0,"y":-24.5,"y2":24.6}],"crossH":[{"y":0,"x":-24.6,"x2":24.6}],
"top":[{"x":-24.64,"v":0.000001},{"x":-24.23,"v":0.000015},{"x":-23.82,"v":0.000029},{"x":-23.42,"v":0.0000085},{"x":-23.01,"v":0.0000105},{"x":-22.6,"v":0},{"x":-22.19,"v":0.0000225},{"x":-21.78,"v":0},{"x":-21.38,"v":0},{"x":-20.97,"v":0.000009},{"x":-20.56,"v":0.000012},{"x":-20.15,"v":0.000011},{"x":-19.74,"v":0},{"x":-19.34,"v":0},{"x":-18.93,"v":0.000019},{"x":-18.52,"v":0.000011},{"x":-18.11,"v":0.00001},{"x":-17.7,"v":0},{"x":-17.3,"v":0.000009},{"x":-16.89,"v":0},{"x":-16.48,"v":0},{"x":-16.07,"v":0.000071},{"x":-15.66,"v":0.000009},{"x":-15.26,"v":0.000021},{"x":-14.85,"v":0},{"x":-14.44,"v":0.0000215},{"x":-14.03,"v":0.000011},{"x":-13.62,"v":0.000059},{"x":-13.22,"v":0.000022},{"x":-12.81,"v":0},{"x":-12.4,"v":0.00001},{"x":-11.99,"v":0},{"x":-11.58,"v":0.00001},{"x":-11.18,"v":0.00007},{"x":-10.77,"v":0},{"x":-10.36,"v":0.000011},{"x":-9.95,"v":0.000021},{"x":-9.54,"v":0.0000195},{"x":-9.14,"v":0.0000205},{"x":-8.73,"v":0.000089},{"x":-8.32,"v":0.000021},{"x":-7.91,"v":0.000017},{"x":-7.5,"v":0},{"x":-7.1,"v":0.000033},{"x":-6.69,"v":0.000048},{"x":-6.28,"v":0.000112},{"x":-5.87,"v":0.00002},{"x":-5.46,"v":0.0000105},{"x":-5.06,"v":0.000025},{"x":-4.65,"v":0.000062},{"x":-4.24,"v":0.000031},{"x":-3.83,"v":0.000115},{"x":-3.42,"v":0.0000105},{"x":-3.02,"v":0.000037},{"x":-2.61,"v":0.000041},{"x":-2.2,"v":0.00002},{"x":-1.79,"v":0.000015},{"x":-1.38,"v":0.0000995},{"x":-0.98,"v":0.000075},{"x":-0.57,"v":0},{"x":-0.16,"v":0},{"x":0.25,"v":0},{"x":0.66,"v":0.000075},{"x":1.06,"v":0.000099},{"x":1.47,"v":0.000015},{"x":1.88,"v":0.00002},{"x":2.29,"v":0.000041},{"x":2.7,"v":0.000037},{"x":3.1,"v":0.000011},{"x":3.51,"v":0.000115},{"x":3.92,"v":0.000031},{"x":4.33,"v":0.000062},{"x":4.74,"v":0.000025},{"x":5.14,"v":0.0000105},{"x":5.55,"v":0.00002},{"x":5.96,"v":0.000112},{"x":6.37,"v":0.000048},{"x":6.78,"v":0.000033},{"x":7.18,"v":0},{"x":7.59,"v":0.000017},{"x":8,"v":0.000021},{"x":8.41,"v":0.000089},{"x":8.82,"v":0.0000205},{"x":9.22,"v":0.0000195},{"x":9.63,"v":0.000021},{"x":10.04,"v":0.000011},{"x":10.45,"v":0},{"x":10.86,"v":0.00007},{"x":11.26,"v":0.00001},{"x":11.67,"v":0},{"x":12.08,"v":0.00001},{"x":12.49,"v":0},{"x":12.9,"v":0.000022},{"x":13.3,"v":0.000059},{"x":13.71,"v":0.000011},{"x":14.12,"v":0.0000215},{"x":14.53,"v":0},{"x":14.94,"v":0.000021},{"x":15.34,"v":0.000009},{"x":15.75,"v":0.000071},{"x":16.16,"v":0},{"x":16.57,"v":0},{"x":16.98,"v":0.000009},{"x":17.38,"v":0},{"x":17.79,"v":0.00001},{"x":18.2,"v":0.000011},{"x":18.61,"v":0.000019},{"x":19.02,"v":0},{"x":19.42,"v":0},{"x":19.83,"v":0.000011},{"x":20.24,"v":0.000012},{"x":20.65,"v":0.000009},{"x":21.06,"v":0},{"x":21.46,"v":0},{"x":21.87,"v":0.0000225},{"x":22.28,"v":0},{"x":22.69,"v":0.0000105},{"x":23.1,"v":0.0000085},{"x":23.5,"v":0.000029},{"x":23.91,"v":0.000012},{"x":24.32,"v":0}],
"bottom":[{"x":-24.57,"v":0.000057},{"x":-24.18,"v":0},{"x":-23.8,"v":0.000068},{"x":-23.41,"v":0.000068},{"x":-23.02,"v":0},{"x":-22.58,"v":0.000068},{"x":-22.19,"v":0.000088},{"x":-21.8,"v":0.000023},{"x":-21.36,"v":0.000047},{"x":-20.97,"v":0.000003},{"x":-20.58,"v":0.00002},{"x":-20.19,"v":0.000003},{"x":-19.76,"v":0},{"x":-19.37,"v":0},{"x":-18.98,"v":0},{"x":-18.54,"v":0},{"x":-18.15,"v":0},{"x":-17.76,"v":0},{"x":-17.37,"v":0},{"x":-16.93,"v":0.000032},{"x":-16.54,"v":0.00002},{"x":-16.11,"v":0.000003},{"x":-15.67,"v":0.000088},{"x":-15.28,"v":0.000002},{"x":-14.84,"v":0.000053},{"x":-14.45,"v":0.000037},{"x":-14.06,"v":0.000018},{"x":-13.67,"v":0.000032},{"x":-13.24,"v":0},{"x":-12.85,"v":0},{"x":-12.46,"v":0},{"x":-12.07,"v":0.000037},{"x":-11.63,"v":0.000212},{"x":-11.19,"v":0.000227},{"x":-10.8,"v":0.000157},{"x":-10.41,"v":0.000102},{"x":-10.02,"v":0.00009},{"x":-9.64,"v":0.000105},{"x":-9.2,"v":0.000077},{"x":-8.81,"v":0.000023},{"x":-8.42,"v":0.000037},{"x":-7.98,"v":0.000023},{"x":-7.59,"v":0.000075},{"x":-7.2,"v":0.000125},{"x":-6.76,"v":0.000048},{"x":-6.37,"v":0.000023},{"x":-5.89,"v":0.000404},{"x":-5.5,"v":0.000332},{"x":-5.11,"v":0.000057},{"x":-4.72,"v":0.000003},{"x":-4.28,"v":0.000002},{"x":-3.89,"v":0.000033},{"x":-3.5,"v":0.000033},{"x":-3.07,"v":0.000033},{"x":-2.68,"v":0.00004},{"x":-2.29,"v":0},{"x":-1.9,"v":0.000013},{"x":-1.51,"v":0},{"x":-1.12,"v":0},{"x":-0.68,"v":0},{"x":-0.29,"v":0},{"x":0.1,"v":0},{"x":0.49,"v":0},{"x":0.92,"v":0},{"x":1.31,"v":0},{"x":1.7,"v":0},{"x":2.09,"v":0},{"x":2.68,"v":0.000115},{"x":3.07,"v":0.000073},{"x":3.45,"v":0.000027},{"x":3.84,"v":0.000003},{"x":4.23,"v":0.000003},{"x":4.62,"v":0.0005},{"x":5.06,"v":0.00095},{"x":5.45,"v":0.000299},{"x":5.84,"v":0.00017},{"x":6.33,"v":0.00002},{"x":6.72,"v":0.000003},{"x":7.1,"v":0},{"x":7.54,"v":0},{"x":7.93,"v":0},{"x":8.32,"v":0},{"x":8.71,"v":0.000047},{"x":9.15,"v":0.000027},{"x":9.54,"v":0.000003},{"x":9.93,"v":0},{"x":11,"v":0},{"x":12,"v":0},{"x":13,"v":0},{"x":14,"v":0},{"x":15,"v":0},{"x":16,"v":0},{"x":17,"v":0},{"x":18,"v":0},{"x":19,"v":0},{"x":20,"v":0},{"x":21,"v":0},{"x":22,"v":0},{"x":23,"v":0},{"x":24.2,"v":0}]},
"hconcat":[
{"width":370,"height":381,"layer":[
{"data":{"name":"frame"},"mark":{"type":"rect","fill":"#0000ff","stroke":"#b09a85","strokeWidth":1},"encoding":{"x":{"field":"a","type":"quantitative","title":"X [mm]","scale":{"domain":[-24.6,24.6],"nice":false},"axis":{"values":[-20,-15,-10,-5,0,5,10,15,20],"grid":false,"labelPadding":10,"titlePadding":1}},"x2":{"field":"b"},"y":{"field":"c","type":"quantitative","title":"Y [mm]","scale":{"domain":[-24.47,26.2],"nice":false},"axis":{"values":[-24,-22,-20,-18,-16,-14,-12,-10,-8,-6,-4,-2,0,2,4,6,8,10,12,14,16,18,20,22,24],"tickCount":30,"grid":false,"labelPadding":8,"titlePadding":0,"labelOverlap":false}},"y2":{"field":"d"}}},
{"data":{"name":"disc"},"mark":{"type":"point","filled":true,"opacity":1,"size":135400},"encoding":{"x":{"field":"x","type":"quantitative"},"y":{"field":"y","type":"quantitative"},"color":{"field":"v","type":"quantitative","scale":{"domain":[-6.3,0,10,19,47.4,76,98.3],"range":["#0000ff","#0000ff","#0058ff","#00ffff","#00ff00","#ffff00","#ff0000"]},"legend":{"orient":"none","legendX":377,"legendY":48,"title":null,"gradientLength":334,"gradientThickness":6,"values":[0,9.48793,18.9759,28.4638,37.9517,47.4396,56.9276,66.4155,75.9034,85.3914,94.8793],"labelExpr":"datum.value==0?'0':datum.value<10?'9.48793E-05':format(datum.value/100000,'.9f')","labelFont":"DejaVu Sans","labelFontSize":5.2,"labelColor":"#444","labelOffset":3,"labelOverlap":false}}}},
{"data":{"name":"coarse"},"mark":{"type":"rect","width":11.4,"height":11.4},"encoding":{"x":{"field":"x","type":"quantitative"},"y":{"field":"y","type":"quantitative"},"color":{"field":"v","type":"quantitative"}}},
{"data":{"name":"fine"},"mark":{"type":"rect","width":3.8,"height":3.8},"encoding":{"x":{"field":"x","type":"quantitative"},"y":{"field":"y","type":"quantitative"},"color":{"field":"v","type":"quantitative"}}},
{"data":{"name":"crossV"},"mark":{"type":"rule","color":"#d02050","strokeWidth":0.6,"opacity":0.7},"encoding":{"x":{"field":"x","type":"quantitative"},"y":{"field":"y","type":"quantitative"},"y2":{"field":"y2"}}},
{"data":{"name":"crossH"},"mark":{"type":"rule","color":"#d02050","strokeWidth":0.6,"opacity":0.7},"encoding":{"y":{"field":"y","type":"quantitative"},"x":{"field":"x","type":"quantitative"},"x2":{"field":"x2"}}}
]},
{"vconcat":[
{"hconcat":[
{"width":1,"height":1,"data":{"values":[{"a":1}]},"mark":{"type":"point","opacity":0,"size":0},"encoding":{}},
{"width":330,"height":185,"data":{"name":"top"},"layer":[
{"mark":{"type":"rule","color":"#dccbb5","strokeWidth":2},"encoding":{"x":{"datum":24.3}}},
{"mark":{"type":"line","color":"#0000ff","strokeWidth":1.2,"clip":true},"encoding":{"x":{"field":"x","type":"quantitative","title":null,"scale":{"domain":[-24.6,24.3],"nice":false},"axis":{"values":[-20,-15,-10,-5,0,5,10,15,20],"grid":true,"gridColor":"#aaa","gridDash":[1,4],"domain":true,"domainColor":"#bb9a70","domainWidth":1,"labelPadding":8}},"y":{"field":"v","type":"quantitative","title":null,"scale":{"domain":[0,0.000106],"nice":false},"axis":{"values":[0,0.00001,0.00002,0.00003,0.00004,0.00005,0.00006,0.00007,0.00008,0.00009,0.0001],"format":".5f","grid":true,"gridColor":"#aaa","gridDash":[1,4],"domain":true,"domainColor":"#bb9a70","domainWidth":1,"labelPadding":7}}}}
]}
],"spacing":3,"bounds":"flush"},
{"width":334,"height":190,"data":{"name":"bottom"},"view":{"stroke":"#bb9a70"},"layer":[
{"mark":{"type":"rule","color":"#dccbb5","strokeWidth":2},"encoding":{"x":{"datum":24.2}}},
{"mark":{"type":"line","color":"#0000ff","strokeWidth":1.2,"clip":true},"encoding":{"x":{"field":"x","type":"quantitative","title":null,"scale":{"domain":[-24.6,24.2],"nice":false},"axis":{"values":[-20,-15,-10,-5,0,5,10,15,20],"grid":true,"gridColor":"#aaa","gridDash":[1,4],"labelPadding":8}},"y":{"field":"v","type":"quantitative","title":null,"scale":{"domain":[0,0.00095],"nice":false},"axis":{"values":[0,0.0001,0.0002,0.0003,0.0004,0.0005,0.0006,0.0007,0.0008,0.0009],"format":".4f","grid":true,"gridColor":"#aaa","gridDash":[1,4],"labelPadding":8}}}}
]}
],"spacing":218,"bounds":"flush"}
]}
